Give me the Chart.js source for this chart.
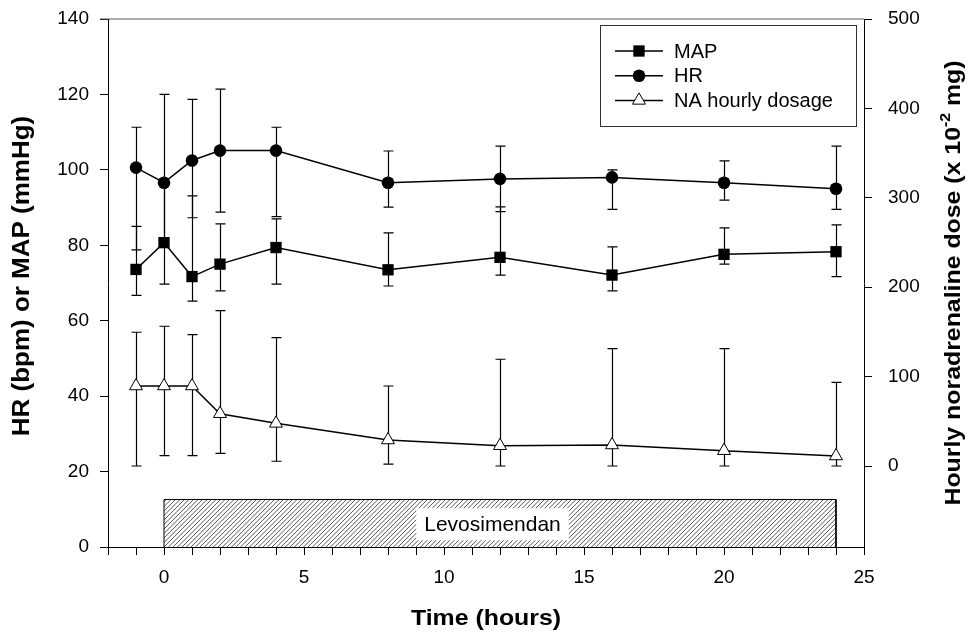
<!DOCTYPE html>
<html>
<head>
<meta charset="utf-8">
<title>MAP, HR and noradrenaline dose during levosimendan</title>
<script src="https://cdn.jsdelivr.net/npm/chart.js@4.4.1/dist/chart.umd.min.js"></script>
<style>
  html, body { margin: 0; padding: 0; background: #fff; }
  #wrap { width: 968px; height: 636px; position: relative; }
</style>
</head>
<body>
<div id="wrap"><canvas id="chart"></canvas></div>
<script>
// sampling times, hours from start of infusion
const hours = [-1, 0, 1, 2, 4, 8, 12, 16, 20, 24];

// mean arterial pressure (mmHg) with upper / lower whisker ends
const map     = [73.6, 80.7, 71.7, 75.0, 79.4, 73.5, 76.8, 72.1, 77.6, 78.3];
const mapHigh = [85.0, 96.0, 93.1, 85.7, 87.0, 83.3, 90.2, 79.6, 84.6, 85.4];
const mapLow  = [66.7, 69.7, 65.2, 67.9, 69.7, 69.2, 72.1, 67.9, 75.0, 71.7];

// heart rate (bpm)
const hr     = [100.6, 96.6, 102.5, 105.1, 105.1, 96.6, 97.6, 98.0, 96.6, 95.0];
const hrHigh = [111.3, 120.0, 118.7, 121.4, 111.3, 105.0, 106.3, 100.0, 102.4, 106.3];
const hrLow  = [78.8, 81.0, 87.3, 88.8, 87.6, 90.1, 88.9, 89.5, 92.0, 89.5];

// noradrenaline hourly dose (x 10^-2 mg), right axis
const naDose = [89.5, 89.5, 89.5, 58.5, 47.7, 29.1, 22.7, 23.5, 17.1, 11.2];
const naHigh = [149.6, 156.3, 146.9, 173.7, 143.5, 89.5, 119.4, 131.2, 131.2, 93.6];
const naLow  = [0, 11.5, 11.5, 14.2, 5.3, 2.2, 0, 0, 0, 0];

// levosimendan infusion: start/end hours, bar height in left-axis units
const infusion = [0, 24];
const infusionTop = 12.6;

const xTickLabels = [0, 5, 10, 15, 20, 25];
const leftTicks = [0, 20, 40, 60, 80, 100, 120, 140];
const rightTicks = [0, 100, 200, 300, 400, 500];

const FONT = '"Liberation Sans", Arial, Helvetica, sans-serif';
const STRETCH = 1.13;

function points(ys) {
  return hours.map((h, i) => ({ x: h, y: ys[i] }));
}

// "////" fill for the infusion bar
function hatchPattern() {
  const s = 9;
  const c = document.createElement('canvas');
  c.width = s; c.height = s;
  const g = c.getContext('2d');
  g.strokeStyle = '#222';
  g.lineWidth = 0.75;
  g.beginPath();
  for (let k = -s; k <= 2 * s; k += s / 2) {
    g.moveTo(k - 1, s + 1);
    g.lineTo(k + s + 1, -1);
  }
  g.stroke();
  return g.createPattern(c, 'repeat');
}

// text drawn a little wider than the font, optionally rotated
function drawTitle(ctx, parts, cx, cy, angle) {
  ctx.save();
  ctx.translate(cx, cy);
  ctx.rotate(angle);
  ctx.scale(STRETCH, 1);
  ctx.fillStyle = '#000';
  ctx.textBaseline = 'middle';
  ctx.textAlign = 'left';
  let total = 0;
  parts.forEach(p => { ctx.font = p.font; p.w = ctx.measureText(p.text).width; total += p.w; });
  let x = -total / 2;
  parts.forEach(p => {
    ctx.font = p.font;
    ctx.fillText(p.text, x, p.rise || 0);
    x += p.w;
  });
  ctx.restore();
}

// keep the plot box fixed: no extra room reserved for end labels
function noScalePadding(s) {
  s.paddingTop = 0; s.paddingBottom = 0;
  s.paddingLeft = 0; s.paddingRight = 0;
}

const frame = {
  id: 'frame',
  beforeDatasetsDraw(chart) {
    const { ctx, chartArea: a } = chart;
    ctx.save();
    ctx.strokeStyle = '#555';
    ctx.lineWidth = 1.2;
    ctx.beginPath();
    ctx.moveTo(a.left - 8, a.top);
    ctx.lineTo(a.right, a.top);
    ctx.stroke();
    ctx.restore();
  },
  afterDraw(chart) {
    const { ctx, chartArea: a } = chart;
    const midY = (a.top + a.bottom) / 2;
    drawTitle(ctx, [{ text: 'HR (bpm) or MAP (mmHg)', font: 'bold 23px ' + FONT }], 23, midY - 7, -Math.PI / 2);
    drawTitle(ctx, [{ text: 'Time (hours)', font: 'bold 22px ' + FONT }], (a.left + a.right) / 2, 619, 0);
    drawTitle(ctx, [
      { text: 'Hourly noradrenaline dose (x 10', font: 'bold 22px ' + FONT },
      { text: '-2', font: 'bold 14px ' + FONT, rise: -8 },
      { text: ' mg)', font: 'bold 22px ' + FONT }
    ], 954, midY, -Math.PI / 2);
  }
};

const errorBars = {
  id: 'errorBars',
  beforeDatasetsDraw(chart) {
    const ctx = chart.ctx;
    const xs = chart.scales.x;
    chart.data.datasets.forEach(ds => {
      if (!ds.errHigh) return;
      const ys = chart.scales[ds.yAxisID];
      ctx.save();
      ctx.strokeStyle = '#000';
      ctx.lineWidth = 1.2;
      ds.data.forEach((p, i) => {
        const px = Math.round(xs.getPixelForValue(p.x)) + 0.5;
        const top = ys.getPixelForValue(ds.errHigh[i]);
        const bot = ys.getPixelForValue(ds.errLow[i]);
        ctx.beginPath();
        ctx.moveTo(px, top); ctx.lineTo(px, bot);
        ctx.moveTo(px - 5, top); ctx.lineTo(px + 5, top);
        ctx.moveTo(px - 5, bot); ctx.lineTo(px + 5, bot);
        ctx.stroke();
      });
      ctx.restore();
    });
  }
};

const infusionLabel = {
  id: 'infusionLabel',
  afterDatasetsDraw(chart) {
    const { ctx, scales } = chart;
    const x0 = scales.x.getPixelForValue(infusion[0]);
    const x1 = scales.x.getPixelForValue(infusion[1]);
    const yt = scales.y.getPixelForValue(infusionTop);
    const yb = scales.y.getPixelForValue(0);
    const cx = (x0 + x1) / 2 - 7.5;
    const cy = (yt + yb) / 2 + 1;
    ctx.save();
    ctx.font = '21px ' + FONT;
    const w = ctx.measureText('Levosimendan').width + 16;
    ctx.fillStyle = '#fff';
    ctx.fillRect(cx - w / 2, cy - 16, w, 32);
    ctx.fillStyle = '#000';
    ctx.textAlign = 'center';
    ctx.textBaseline = 'middle';
    ctx.fillText('Levosimendan', cx, cy + 1);
    ctx.restore();
  }
};

const boxLegend = {
  id: 'boxLegend',
  afterDraw(chart) {
    const { ctx, chartArea: a } = chart;
    const w = 256, h = 101;
    const left = Math.round(a.right - 8 - w), top = Math.round(a.top + 6);
    ctx.save();
    ctx.fillStyle = '#fff';
    ctx.fillRect(left, top, w, h);
    ctx.strokeStyle = '#333';
    ctx.lineWidth = 1;
    ctx.strokeRect(left + 0.5, top + 0.5, w, h);
    chart.data.datasets.filter(d => d.inLegend).forEach((ds, i) => {
      const y = top + 26 + i * 24.7;
      ctx.strokeStyle = '#000';
      ctx.lineWidth = 1.5;
      ctx.beginPath();
      ctx.moveTo(left + 15, y);
      ctx.lineTo(left + 63, y);
      ctx.stroke();
      ctx.fillStyle = ds.pointBackgroundColor;
      ctx.lineWidth = ds.pointBorderWidth || 1;
      Chart.helpers.drawPoint(ctx, {
        pointStyle: ds.pointStyle, radius: ds.pointRadius, rotation: 0,
        borderWidth: ds.pointBorderWidth
      }, left + 39, y);
      ctx.fillStyle = '#000';
      ctx.font = '20px ' + FONT;
      ctx.textBaseline = 'middle';
      ctx.textAlign = 'left';
      ctx.fillText(ds.label, left + 74, y + 1);
    });
    ctx.restore();
  }
};

const axisLine = { display: true, color: '#000', width: 1 };
const tickFont = { family: FONT, size: 19 };

new Chart(document.getElementById('chart'), {
  type: 'line',
  data: {
    datasets: [
      {
        label: 'MAP', data: points(map), yAxisID: 'y',
        errHigh: mapHigh, errLow: mapLow, inLegend: true,
        borderColor: '#000', borderWidth: 1.5, tension: 0,
        pointStyle: 'rect', pointRadius: 8,
        pointBackgroundColor: '#000', pointBorderColor: '#000', pointBorderWidth: 0
      },
      {
        label: 'HR', data: points(hr), yAxisID: 'y',
        errHigh: hrHigh, errLow: hrLow, inLegend: true,
        borderColor: '#000', borderWidth: 1.5, tension: 0,
        pointStyle: 'circle', pointRadius: 6.3,
        pointBackgroundColor: '#000', pointBorderColor: '#000', pointBorderWidth: 0
      },
      {
        label: 'NA hourly dosage', data: points(naDose), yAxisID: 'y1',
        errHigh: naHigh, errLow: naLow, inLegend: true,
        borderColor: '#000', borderWidth: 1.5, tension: 0,
        pointStyle: 'triangle', pointRadius: 7.5,
        pointBackgroundColor: '#fff', pointBorderColor: '#000', pointBorderWidth: 1
      },
      {
        label: 'Levosimendan', yAxisID: 'y', order: 5,
        data: [
          { x: infusion[0], y: 0 }, { x: infusion[0], y: infusionTop },
          { x: infusion[1], y: infusionTop }, { x: infusion[1], y: 0 }
        ],
        borderColor: '#000', borderWidth: 1, tension: 0, pointRadius: 0,
        fill: 'origin', backgroundColor: hatchPattern()
      }
    ]
  },
  options: {
    responsive: true,
    maintainAspectRatio: false,
    animation: false,
    events: [],
    layout: { padding: { top: 19, left: 0, right: 0, bottom: 0 } },
    plugins: { legend: { display: false }, tooltip: { enabled: false } },
    scales: {
      x: {
        type: 'linear', min: -2, max: 25,
        afterBuildTicks: s => {
          const t = [];
          for (let v = -2; v <= 25; v++) t.push({ value: v });
          s.ticks = t;
        },
        afterFit: s => { s.height = 89; noScalePadding(s); },
        grid: { drawOnChartArea: false, tickLength: 8, color: '#000' },
        border: axisLine,
        ticks: {
          autoSkip: false, maxRotation: 0, padding: 11, color: '#000', font: tickFont,
          callback: v => xTickLabels.includes(v) ? String(v) : ''
        }
      },
      y: {
        position: 'left', min: 0, max: 140,
        afterBuildTicks: s => { s.ticks = leftTicks.map(v => ({ value: v })); },
        afterFit: s => { s.width = 108; noScalePadding(s); },
        grid: { drawOnChartArea: false, tickLength: 8, color: '#000' },
        border: axisLine,
        ticks: { padding: 11, color: '#000', font: tickFont }
      },
      y1: {
        position: 'right', min: -90.6, max: 500,
        afterBuildTicks: s => { s.ticks = rightTicks.map(v => ({ value: v })); },
        afterFit: s => { s.width = 104; noScalePadding(s); },
        grid: { drawOnChartArea: false, tickLength: 8, color: '#000' },
        border: axisLine,
        ticks: { padding: 16, color: '#000', font: tickFont }
      }
    }
  },
  plugins: [frame, errorBars, infusionLabel, boxLegend]
});
</script>
</body>
</html>
